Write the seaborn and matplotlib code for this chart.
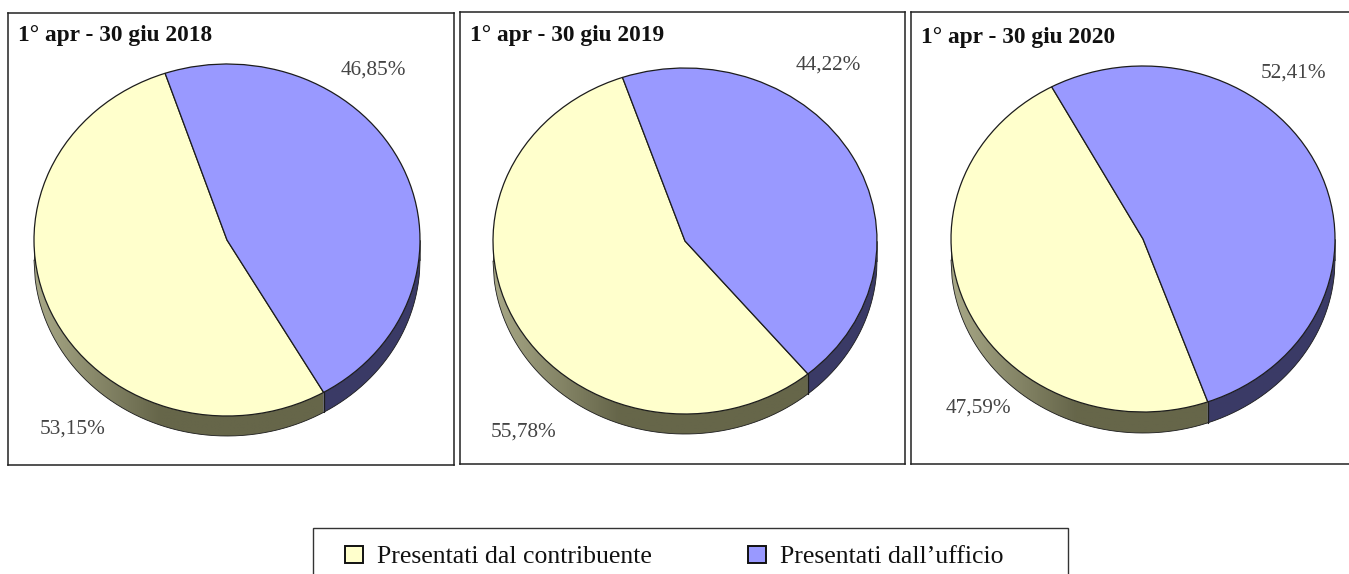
import numpy as np
import matplotlib
matplotlib.use("Agg")
import matplotlib.pyplot as plt
import seaborn as sns
from matplotlib.patches import Patch, Polygon, Rectangle

# ---- data ----
periods = ["1° apr - 30 giu 2018", "1° apr - 30 giu 2019", "1° apr - 30 giu 2020"]
contribuente = [53.15, 55.78, 47.59]
ufficio = [46.85, 44.22, 52.41]
series_names = ["Presentati dal contribuente", "Presentati dall’ufficio"]

# ---- layout (pixels) ----
W, H = 1349, 574
frames = [(8, 13, 454, 465), (460, 12, 905, 464), (911, 12, 1357, 464)]
ellipses = [(227, 240, 193, 176), (685, 241, 192, 173), (1143, 239, 192, 173)]
depths = [20, 20, 21]
start_angles = [108.7, 109.0, 118.4]
title_pos = [(18, 36), (470, 35), (921, 38)]
label_u_pos = [(373, 70), (828, 65), (1293, 73)]
label_c_pos = [(73, 429), (524, 432), (978, 408)]

YELLOW, BLUE = "#FFFFCC", "#9999FF"
WALL_Y_LIGHT, WALL_Y_DARK = np.array([0.66, 0.66, 0.53]), np.array([0.40, 0.40, 0.29])
WALL_B_LIGHT, WALL_B_DARK = np.array([0.25, 0.25, 0.44]), np.array([0.23, 0.23, 0.40])
EDGE = "#1c1c1c"

sns.set_theme(style="white")
plt.rcParams["font.family"] = ["Liberation Serif", "DejaVu Serif"]

fig = plt.figure(figsize=(W / 100, H / 100), dpi=100, facecolor="white")


def fy(y):
    return 1 - y / H


def wall(ax, x_from, x_to, d, light, dark):
    xs = np.linspace(x_from, x_to, 240)
    low = -np.sqrt(np.clip(1 - xs**2, 0, 1))
    poly = np.vstack([np.column_stack([xs, low]),
                      np.column_stack([xs[::-1], low[::-1] - d])])
    t = np.clip((np.linspace(-1, 1, 400) + 1) / 0.65, 0, 1)[None, :, None]
    img = light[None, None, :] * (1 - t) + dark[None, None, :] * t
    im = ax.imshow(img, extent=(-1, 1, -1 - d, 0), aspect="auto", zorder=1,
                   interpolation="bilinear")
    clip = Polygon(poly, closed=True, transform=ax.transData)
    im.set_clip_path(clip)
    ax.plot(xs, low - d, color=EDGE, lw=0.6, zorder=1.5)


for i in range(3):
    x0, y0, x1, y1 = frames[i]
    cx, cy, rx, ry = ellipses[i]
    ax = fig.add_axes([x0 / W, fy(y1), (x1 - x0) / W, (y1 - y0) / H])
    vals = [contribuente[i], ufficio[i]]
    d = depths[i] / ry
    end_angle = np.deg2rad(start_angles[i] + contribuente[i] * 3.6)
    split_x = np.cos(end_angle)
    split_y = np.sin(end_angle)

    wall(ax, -1, split_x, d, WALL_Y_LIGHT, WALL_Y_DARK)
    wall(ax, split_x, 1, d, WALL_B_LIGHT, WALL_B_DARK)
    ax.plot([split_x, split_x], [split_y, split_y - d], color=EDGE, lw=0.9, zorder=1.6)
    ax.plot([-1, -1], [0, -d], color=EDGE, lw=0.5, zorder=1.6)
    ax.plot([1, 1], [0, -d], color=EDGE, lw=0.5, zorder=1.6)

    ax.pie(vals, colors=[YELLOW, BLUE], startangle=start_angles[i], counterclock=True,
           wedgeprops=dict(edgecolor=EDGE, linewidth=0.9, zorder=2), frame=True)

    ax.set_aspect("auto")
    ax.set_xlim((x0 - cx) / rx, (x1 - cx) / rx)
    ax.set_ylim((cy - y1) / ry, (cy - y0) / ry)
    ax.set_xticks([])
    ax.set_yticks([])
    for s in ax.spines.values():
        s.set_visible(True)
        s.set_color("#222222")
        s.set_linewidth(1.1)

    fig.text(title_pos[i][0] / W, fy(title_pos[i][1]), periods[i], fontsize=16.8,
             fontweight="bold", color="#111111", va="center", ha="left")
    fig.text(label_u_pos[i][0] / W, fy(label_u_pos[i][1]),
             f"{ufficio[i]:.2f}%".replace(".", ","), fontsize=15.3, color="#444444",
             va="center", ha="center")
    fig.text(label_c_pos[i][0] / W, fy(label_c_pos[i][1]),
             f"{contribuente[i]:.2f}%".replace(".", ","), fontsize=15.3, color="#444444",
             va="center", ha="center")

# legend frame runs off the bottom of the canvas
fig.add_artist(Rectangle((313 / W, fy(600)), 755 / W, 72 / H, transform=fig.transFigure,
                         fill=False, edgecolor="#333333", linewidth=1.0))
handles = [Patch(facecolor=YELLOW, edgecolor="#111111", linewidth=1.4),
           Patch(facecolor=BLUE, edgecolor="#111111", linewidth=1.4)]
fig.legend(handles, series_names, loc="center left", bbox_to_anchor=(345 / W, fy(557)),
           ncol=2, frameon=False, fontsize=18.5, handlelength=0.7, handleheight=0.7,
           handletextpad=0.55, columnspacing=3.75, borderpad=0, borderaxespad=0,
           labelcolor="#111111")

fig.savefig("out.png", dpi=100)
